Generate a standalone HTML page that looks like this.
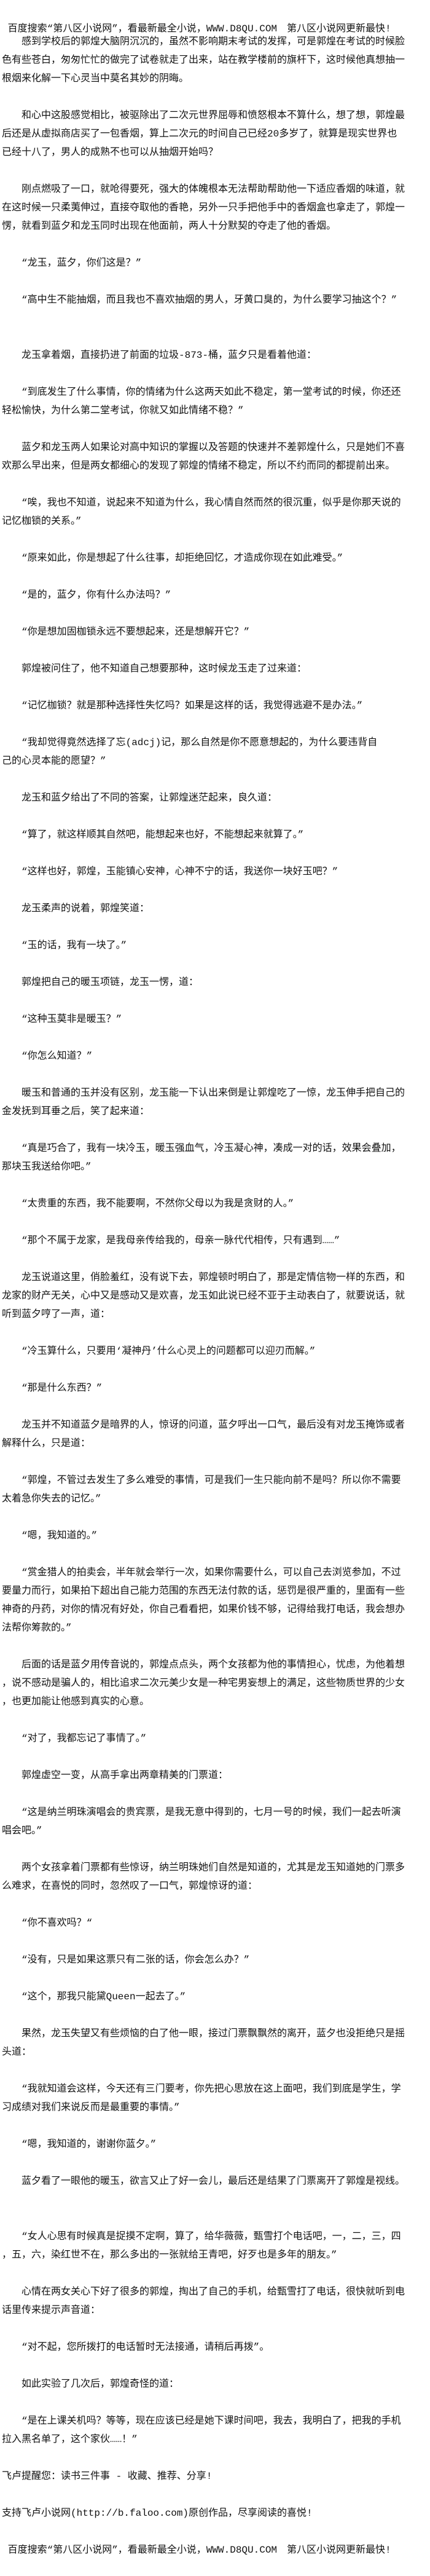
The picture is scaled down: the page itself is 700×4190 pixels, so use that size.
<!DOCTYPE html>
<html>
<head>
<meta charset="utf-8">
<style>
html,body{margin:0;padding:0;background:#fff;}
body{width:700px;height:4190px;position:relative;overflow:hidden;}
.t{position:absolute;left:3px;margin:0;white-space:pre;font-family:"Liberation Mono","Noto Sans CJK SC",monospace;font-size:16px;line-height:30px;color:#111;}
</style>
</head>
<body>
<div class="t" style="top:32px;"> 百度搜索“第八区小说网”，看最新最全小说，WWW.D8QU.COM　第八区小说网更新最快!</div>
<pre class="t" style="top:53px;">　　感到学校后的郭煌大脑阴沉沉的，虽然不影响期末考试的发挥，可是郭煌在考试的时候脸
色有些苍白，匆匆忙忙的做完了试卷就走了出来，站在教学楼前的旗杆下，这时候他真想抽一
根烟来化解一下心灵当中莫名其妙的阴晦。

　　和心中这股感觉相比，被驱除出了二次元世界屈辱和愤怒根本不算什么，想了想，郭煌最
后还是从虚拟商店买了一包香烟，算上二次元的时间自己已经20多岁了，就算是现实世界也
已经十八了，男人的成熟不也可以从抽烟开始吗？

　　刚点燃吸了一口，就呛得要死，强大的体魄根本无法帮助帮助他一下适应香烟的味道，就
在这时候一只柔荑伸过，直接夺取他的香艳，另外一只手把他手中的香烟盒也拿走了，郭煌一
愣，就看到蓝夕和龙玉同时出现在他面前，两人十分默契的夺走了他的香烟。

　　“龙玉，蓝夕，你们这是？”

　　“高中生不能抽烟，而且我也不喜欢抽烟的男人，牙黄口臭的，为什么要学习抽这个？”


　　龙玉拿着烟，直接扔进了前面的垃圾-873-桶，蓝夕只是看着他道：

　　“到底发生了什么事情，你的情绪为什么这两天如此不稳定，第一堂考试的时候，你还还
轻松愉快，为什么第二堂考试，你就又如此情绪不稳？”

　　蓝夕和龙玉两人如果论对高中知识的掌握以及答题的快速并不差郭煌什么，只是她们不喜
欢那么早出来，但是两女都细心的发现了郭煌的情绪不稳定，所以不约而同的都提前出来。

　　“唉，我也不知道，说起来不知道为什么，我心情自然而然的很沉重，似乎是你那天说的
记忆枷锁的关系。”

　　“原来如此，你是想起了什么往事，却拒绝回忆，才造成你现在如此难受。”

　　“是的，蓝夕，你有什么办法吗？”

　　“你是想加固枷锁永远不要想起来，还是想解开它？”

　　郭煌被问住了，他不知道自己想要那种，这时候龙玉走了过来道：

　　“记忆枷锁？就是那种选择性失忆吗？如果是这样的话，我觉得逃避不是办法。”

　　“我却觉得竟然选择了忘(adcj)记，那么自然是你不愿意想起的，为什么要违背自
己的心灵本能的愿望？”

　　龙玉和蓝夕给出了不同的答案，让郭煌迷茫起来，良久道：

　　“算了，就这样顺其自然吧，能想起来也好，不能想起来就算了。”

　　“这样也好，郭煌，玉能镇心安神，心神不宁的话，我送你一块好玉吧？”

　　龙玉柔声的说着，郭煌笑道：

　　“玉的话，我有一块了。”

　　郭煌把自己的暖玉项链，龙玉一愣，道：

　　“这种玉莫非是暖玉？”

　　“你怎么知道？”

　　暖玉和普通的玉并没有区别，龙玉能一下认出来倒是让郭煌吃了一惊，龙玉伸手把自己的
金发抚到耳垂之后，笑了起来道：

　　“真是巧合了，我有一块冷玉，暖玉强血气，冷玉凝心神，凑成一对的话，效果会叠加，
那块玉我送给你吧。”

　　“太贵重的东西，我不能要啊，不然你父母以为我是贪财的人。”

　　“那个不属于龙家，是我母亲传给我的，母亲一脉代代相传，只有遇到……”

　　龙玉说道这里，俏脸羞红，没有说下去，郭煌顿时明白了，那是定情信物一样的东西，和
龙家的财产无关，心中又是感动又是欢喜，龙玉如此说已经不亚于主动表白了，就要说话，就
听到蓝夕哼了一声，道：

　　“冷玉算什么，只要用‘凝神丹’什么心灵上的问题都可以迎刃而解。”

　　“那是什么东西？”

　　龙玉并不知道蓝夕是暗界的人，惊讶的问道，蓝夕呼出一口气，最后没有对龙玉掩饰或者
解释什么，只是道：

　　“郭煌，不管过去发生了多么难受的事情，可是我们一生只能向前不是吗？所以你不需要
太着急你失去的记忆。”

　　“嗯，我知道的。”

　　“赏金猎人的拍卖会，半年就会举行一次，如果你需要什么，可以自己去浏览参加，不过
要量力而行，如果拍下超出自己能力范围的东西无法付款的话，惩罚是很严重的，里面有一些
神奇的丹药，对你的情况有好处，你自己看看把，如果价钱不够，记得给我打电话，我会想办
法帮你筹款的。”

　　后面的话是蓝夕用传音说的，郭煌点点头，两个女孩都为他的事情担心，忧虑，为他着想
，说不感动是骗人的，相比追求二次元美少女是一种宅男妄想上的满足，这些物质世界的少女
，也更加能让他感到真实的心意。

　　“对了，我都忘记了事情了。”

　　郭煌虚空一变，从高手拿出两章精美的门票道：

　　“这是纳兰明珠演唱会的贵宾票，是我无意中得到的，七月一号的时候，我们一起去听演
唱会吧。”

　　两个女孩拿着门票都有些惊讶，纳兰明珠她们自然是知道的，尤其是龙玉知道她的门票多
么难求，在喜悦的同时，忽然叹了一口气，郭煌惊讶的道：

　　“你不喜欢吗？“

　　“没有，只是如果这票只有二张的话，你会怎么办？”

　　“这个，那我只能黛Queen一起去了。”

　　果然，龙玉失望又有些烦恼的白了他一眼，接过门票飘飘然的离开，蓝夕也没拒绝只是摇
头道：

　　“我就知道会这样，今天还有三门要考，你先把心思放在这上面吧，我们到底是学生，学
习成绩对我们来说反而是最重要的事情。”

　　“嗯，我知道的，谢谢你蓝夕。”

　　蓝夕看了一眼他的暖玉，欲言又止了好一会儿，最后还是结果了门票离开了郭煌是视线。


　　“女人心思有时候真是捉摸不定啊，算了，给华薇薇，甄雪打个电话吧，一，二，三，四
，五，六，染红世不在，那么多出的一张就给王青吧，好歹也是多年的朋友。”

　　心情在两女关心下好了很多的郭煌，掏出了自己的手机，给甄雪打了电话，很快就听到电
话里传来提示声音道：

　　“对不起，您所拨打的电话暂时无法接通，请稍后再拨”。

　　如此实验了几次后，郭煌奇怪的道：

　　“是在上课关机吗？等等，现在应该已经是她下课时间吧，我去，我明白了，把我的手机
拉入黑名单了，这个家伙……！”

飞卢提醒您：读书三件事 - 收藏、推荐、分享!

支持飞卢小说网(http://b.faloo.com)原创作品，尽享阅读的喜悦!

 百度搜索“第八区小说网”，看最新最全小说，WWW.D8QU.COM　第八区小说网更新最快!</pre>
</body>
</html>
